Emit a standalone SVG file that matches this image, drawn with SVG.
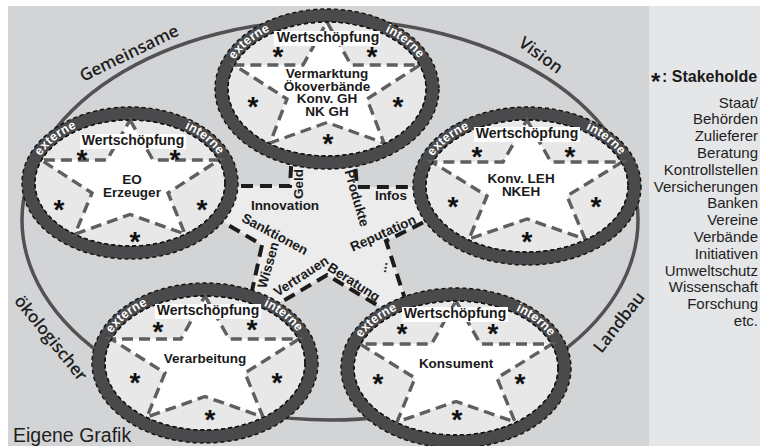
<svg xmlns="http://www.w3.org/2000/svg" width="760" height="446" viewBox="0 0 760 446">
<defs>
<style>
.ring{fill:#4a4a4c;stroke:#111;stroke-width:1.4;stroke-dasharray:4 3}
.inner{fill:#e8e8e9;stroke:#111;stroke-width:1.3;stroke-dasharray:4 3}
.star{fill:#fff;stroke:#5f5f61;stroke-width:3.4;stroke-dasharray:11 6}
.wb{fill:#fff}
.wt{font-family:"Liberation Sans",Arial,sans-serif;font-weight:bold;font-size:14px;fill:#1a1a1a;text-anchor:middle}
.lbl{font-family:"Liberation Sans",Arial,sans-serif;font-weight:bold;font-size:13.5px;fill:#1a1a1a;text-anchor:middle}
.ast{font-family:"Liberation Sans",Arial,sans-serif;font-weight:bold;font-size:28px;fill:#111;text-anchor:middle}
.rt{font-family:"Liberation Sans",Arial,sans-serif;font-weight:bold;font-size:12.5px;fill:#fff;text-anchor:middle;letter-spacing:0.3px}
.con{fill:none;stroke:#1c1c1c;stroke-width:4;stroke-dasharray:12 7}
.cl{font-family:"Liberation Sans",Arial,sans-serif;font-weight:bold;font-size:13.5px;fill:#1a1a1a;text-anchor:middle}
.ol{font-family:"Open Sans","Liberation Sans",sans-serif;font-weight:600;font-size:17px;fill:#1e1e1e;text-anchor:middle}
.lg{font-family:"Liberation Sans",Arial,sans-serif;font-size:15px;fill:#1e1e1e;text-anchor:end}
</style>
</defs>
<rect x="0" y="0" width="760" height="446" fill="#fff"/>
<rect x="8" y="6" width="641" height="440" fill="#d3d4d6"/>
<rect x="649" y="6" width="111" height="440" fill="#e5e6e8"/>

<ellipse id="vision-ring" cx="330" cy="220" rx="308" ry="200" fill="none" stroke="#525254" stroke-width="3.5"/>
<polygon id="center-area" points="220,186 290,186 292,150 354,150 357,187 430,187 440,214 386,241 406,300 390,312 327,275 270,308 250,300 262,245 215,217" fill="#ececed"/>

<g id="connectors">
<polyline class="con" points="222,186 290,186 292,150"/>
<polyline class="con" points="354,150 357,187 428,187"/>
<polyline class="con" points="440,214 386,241 406,302"/>
<polyline class="con" points="268,310 327,275 392,314"/>
<polyline class="con" points="213,216 262,245 250,300"/>
</g>

<g id="node-vermarktung" transform="translate(327,89)">
<ellipse class="ring" rx="112" ry="80"/>
<ellipse class="inner" rx="99" ry="67"/>
<path class="star" d="M0,-67 L24,-24 L93,-24 L40,10 L57,54 L0,33.5 L-57,54 L-40,10 L-93,-24 L-24,-24 Z"/>
<ellipse rx="99" ry="67" fill="none" stroke="#111" stroke-width="1.3" stroke-dasharray="4 3"/>
<path id="arc1" d="M-102,0 A102,70 0 0 1 102,0" fill="none"/>
<text class="rt"><textPath href="#arc1" startOffset="20%">externe</textPath></text>
<text class="rt"><textPath href="#arc1" startOffset="80%">interne</textPath></text>
<rect class="wb" x="-53" y="-58" width="106" height="15"/>
<text class="wt" x="1" y="-47">Wertschöpfung</text>
<text class="lbl" x="0" y="-11">Vermarktung</text>
<text class="lbl" x="0" y="1.5">Ökoverbände</text>
<text class="lbl" x="0" y="14">Konv. GH</text>
<text class="lbl" x="0" y="26.5">NK GH</text>
<text class="ast" x="-49" y="-23">*</text>
<text class="ast" x="45" y="-23">*</text>
<text class="ast" x="-74" y="27">*</text>
<text class="ast" x="71" y="27">*</text>
<text class="ast" x="1" y="64">*</text>
</g>

<g id="node-erzeuger" transform="translate(130,183)">
<ellipse class="ring" rx="108" ry="76"/>
<ellipse class="inner" rx="95" ry="63"/>
<path class="star" d="M0,-63 L23,-23 L89,-23 L38,10 L55,51 L0,31.5 L-55,51 L-38,10 L-89,-23 L-23,-23 Z"/>
<ellipse rx="95" ry="63" fill="none" stroke="#111" stroke-width="1.3" stroke-dasharray="4 3"/>
<path id="arc2" d="M-98,0 A98,66 0 0 1 98,0" fill="none"/>
<text class="rt"><textPath href="#arc2" startOffset="20%">externe</textPath></text>
<text class="rt"><textPath href="#arc2" startOffset="80%">interne</textPath></text>
<rect class="wb" x="-50" y="-49" width="106" height="15"/>
<text class="wt" x="3" y="-38">Wertschöpfung</text>
<text class="lbl" x="2" y="1">EO</text>
<text class="lbl" x="2" y="14">Erzeuger</text>
<text class="ast" x="-48" y="-14">*</text>
<text class="ast" x="45" y="-14">*</text>
<text class="ast" x="-71" y="36">*</text>
<text class="ast" x="72" y="36">*</text>
<text class="ast" x="5" y="68">*</text>
</g>

<g id="node-leh" transform="translate(527,186)">
<ellipse class="ring" rx="114" ry="79"/>
<ellipse class="inner" rx="101" ry="66"/>
<path class="star" d="M0,-66 L24,-24 L95,-24 L40,10 L58,53 L0,33 L-58,53 L-40,10 L-95,-24 L-24,-24 Z"/>
<ellipse rx="101" ry="66" fill="none" stroke="#111" stroke-width="1.3" stroke-dasharray="4 3"/>
<path id="arc3" d="M-104,0 A104,69 0 0 1 104,0" fill="none"/>
<text class="rt"><textPath href="#arc3" startOffset="20%">externe</textPath></text>
<text class="rt"><textPath href="#arc3" startOffset="80%">interne</textPath></text>
<rect class="wb" x="-53" y="-59" width="106" height="15"/>
<text class="wt" x="0" y="-48">Wertschöpfung</text>
<text class="lbl" x="-6" y="-3">Konv. LEH</text>
<text class="lbl" x="-6" y="10">NKEH</text>
<text class="ast" x="-50" y="-20">*</text>
<text class="ast" x="43" y="-20">*</text>
<text class="ast" x="-74" y="30">*</text>
<text class="ast" x="69" y="30">*</text>
<text class="ast" x="0" y="65">*</text>
</g>

<g id="node-verarbeitung" transform="translate(205,363)">
<ellipse class="ring" rx="113" ry="80"/>
<ellipse class="inner" rx="100" ry="67"/>
<path class="star" d="M0,-67 L24,-24 L94,-24 L40,10 L58,54 L0,33.5 L-58,54 L-40,10 L-94,-24 L-24,-24 Z"/>
<ellipse rx="100" ry="67" fill="none" stroke="#111" stroke-width="1.3" stroke-dasharray="4 3"/>
<path id="arc4" d="M-103,0 A103,70 0 0 1 103,0" fill="none"/>
<text class="rt"><textPath href="#arc4" startOffset="20%">externe</textPath></text>
<text class="rt"><textPath href="#arc4" startOffset="80%">interne</textPath></text>
<rect class="wb" x="-50" y="-59" width="106" height="15"/>
<text class="wt" x="3" y="-48">Wertschöpfung</text>
<text class="lbl" x="0" y="0">Verarbeitung</text>
<text class="ast" x="-47" y="-22">*</text>
<text class="ast" x="47" y="-24">*</text>
<text class="ast" x="-70" y="29">*</text>
<text class="ast" x="72" y="29">*</text>
<text class="ast" x="5" y="66">*</text>
</g>

<g id="node-konsument" transform="translate(456,368)">
<ellipse class="ring" rx="115" ry="80"/>
<ellipse class="inner" rx="102" ry="67"/>
<path class="star" d="M0,-67 L24.5,-24 L96,-24 L41,10 L59,54 L0,33.5 L-59,54 L-41,10 L-96,-24 L-24.5,-24 Z"/>
<ellipse rx="102" ry="67" fill="none" stroke="#111" stroke-width="1.3" stroke-dasharray="4 3"/>
<path id="arc5" d="M-105,0 A105,70 0 0 1 105,0" fill="none"/>
<text class="rt"><textPath href="#arc5" startOffset="20%">externe</textPath></text>
<text class="rt"><textPath href="#arc5" startOffset="80%">interne</textPath></text>
<rect class="wb" x="-54" y="-61" width="106" height="15"/>
<text class="wt" x="-1" y="-50">Wertschöpfung</text>
<text class="lbl" x="0" y="0">Konsument</text>
<text class="ast" x="-54" y="-25">*</text>
<text class="ast" x="37" y="-25">*</text>
<text class="ast" x="-78" y="25">*</text>
<text class="ast" x="64" y="25">*</text>
<text class="ast" x="1" y="61">*</text>
</g>

<g id="connector-labels">
<text class="cl" transform="translate(298,184) rotate(-90)" dy="0.35em">Geld</text>
<text class="cl" transform="translate(357,198) rotate(74)" dy="0.35em">Produkte</text>
<text class="cl" x="391" y="200">Infos</text>
<text class="cl" x="285" y="210">Innovation</text>
<text class="cl" transform="translate(275,234) rotate(28)" dy="0.35em">Sanktionen</text>
<text class="cl" transform="translate(268,265) rotate(-74)" dy="0.35em">Wissen</text>
<text class="cl" transform="translate(301,276) rotate(-33)" dy="0.35em">Vertrauen</text>
<text class="cl" transform="translate(354,282) rotate(33)" dy="0.35em">Beratung</text>
<text class="cl" transform="translate(383,233) rotate(-24)" dy="0.35em">Reputation</text>
<text class="cl" transform="translate(382,267) rotate(-80)" dy="0.35em">...</text>
</g>

<g id="vision-labels">
<text class="ol" transform="translate(129,53) rotate(-26)" dy="0.35em">Gemeinsame</text>
<text class="ol" transform="translate(541,55) rotate(36)" dy="0.35em">Vision</text>
<text class="ol" transform="translate(51,338) rotate(51)" dy="0.35em">ökologischer</text>
<text class="ol" transform="translate(619,322) rotate(-52)" dy="0.35em">Landbau</text>
</g>

<text x="13" y="442" font-family="Liberation Sans, Arial, sans-serif" font-size="19.5" fill="#1e1e1e">Eigene Grafik</text>

<g id="legend">
<text x="651" y="90" font-family="Liberation Sans, Arial, sans-serif" font-weight="bold" font-size="24" fill="#1a1a1a">*</text>
<text x="662" y="82" font-family="Liberation Sans, Arial, sans-serif" font-weight="bold" font-size="16" fill="#1a1a1a">: Stakeholde</text>
<text class="lg" x="758" y="107.5">Staat/</text>
<text class="lg" x="758" y="124.3">Behörden</text>
<text class="lg" x="758" y="141.1">Zulieferer</text>
<text class="lg" x="758" y="157.9">Beratung</text>
<text class="lg" x="758" y="174.7">Kontrollstellen</text>
<text class="lg" x="758" y="191.5">Versicherungen</text>
<text class="lg" x="758" y="208.3">Banken</text>
<text class="lg" x="758" y="225.1">Vereine</text>
<text class="lg" x="758" y="241.9">Verbände</text>
<text class="lg" x="758" y="258.7">Initiativen</text>
<text class="lg" x="758" y="275.5">Umweltschutz</text>
<text class="lg" x="758" y="292.3">Wissenschaft</text>
<text class="lg" x="758" y="309.1">Forschung</text>
<text class="lg" x="758" y="325.9">etc.</text>
</g>
</svg>
